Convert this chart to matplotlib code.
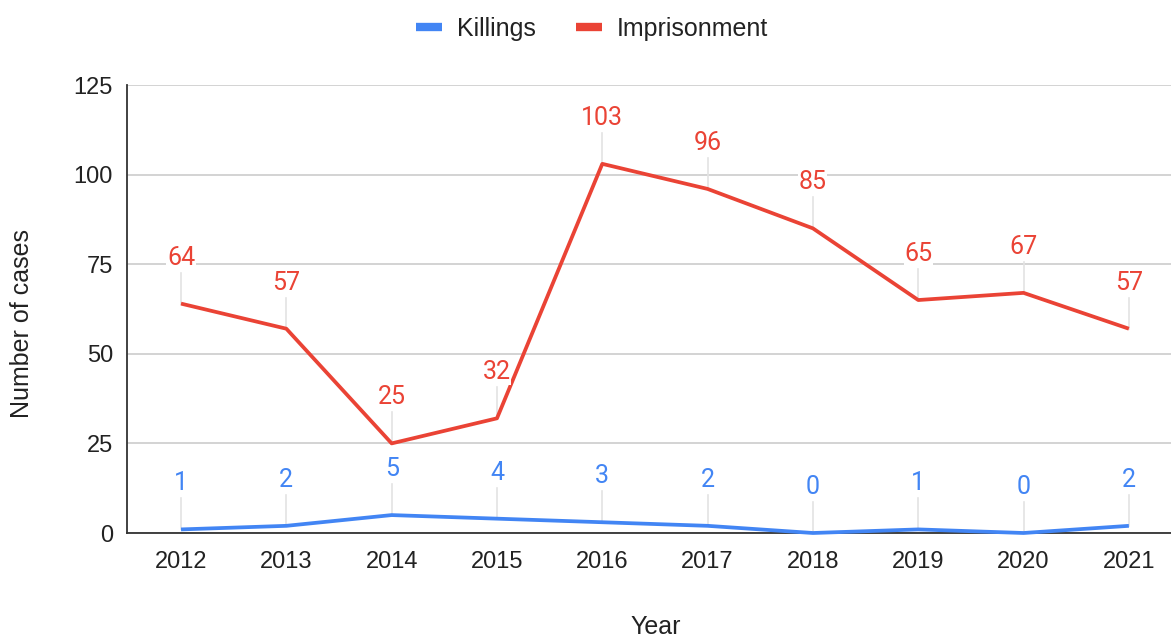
import matplotlib
matplotlib.use("Agg")
import matplotlib.pyplot as plt
from matplotlib.lines import Line2D

years = ["2012", "2013", "2014", "2015", "2016", "2017", "2018", "2019", "2020", "2021"]
killings = [1, 2, 5, 4, 3, 2, 0, 1, 0, 2]
imprisonment = [64, 57, 25, 32, 103, 96, 85, 65, 67, 57]
y_ticks = [0, 25, 50, 75, 100, 125]

BLUE = "#4285F4"
RED = "#EA4335"
TEXT = "#222222"

W, H = 1171, 639
fig = plt.figure(figsize=(W / 100, H / 100), dpi=100)
ax = fig.add_axes([127 / W, 1 - 533 / H, 1 - 127 / W, (533 - 85) / H])

x = list(range(len(years)))

ax.set_ylim(0, 125)
ax.set_xlim(-0.513, 9.40)
ax.set_yticks(y_ticks)
ax.set_xticks(x)
ax.set_xticklabels(years)
ax.yaxis.grid(True, color="#cccccc", linewidth=1.2)
ax.set_axisbelow(True)
for s in ("top", "right"):
    ax.spines[s].set_visible(False)
for s in ("left", "bottom"):
    ax.spines[s].set_color("#333333")
    ax.spines[s].set_linewidth(1.3)
ax.tick_params(length=0, labelsize=17, labelcolor=TEXT)
for t in ax.get_xticklabels() + ax.get_yticklabels():
    t.set_fontfamily("Liberation Sans")
ax.tick_params(axis="x", pad=13)
ax.tick_params(axis="y", pad=10)

u_per_px = 125 / (533 - 85)


def annotate(series, color):
    for xi, v in zip(x, series):
        top = v + 31 * u_per_px
        ax.plot([xi, xi], [v, top], color="#e3e3e3", linewidth=1.2, zorder=1)
        ax.text(xi, v + 46 * u_per_px, str(v), color=color, fontsize=18,
                fontfamily="Roboto", ha="center", va="center", zorder=4,
                bbox=dict(facecolor="white", edgecolor="none", pad=0.3))


annotate(killings, BLUE)
annotate(imprisonment, RED)
ax.plot(x, killings, color=BLUE, linewidth=2.7, zorder=3, solid_capstyle="butt", clip_on=False)
ax.plot(x, imprisonment, color=RED, linewidth=2.7, zorder=3, solid_capstyle="butt", clip_on=False)

ax.set_ylabel("Number of cases", fontsize=18, fontfamily="Liberation Sans", color=TEXT)
ax.set_xlabel("Year", fontsize=18, fontfamily="Liberation Sans", color=TEXT)
ax.yaxis.set_label_coords(-(127 - 22) / (W - 127), 0.5 - 14 / (533 - 85))
ax.xaxis.set_label_coords(0.5 + 7 / (W - 127), -(627 - 533) / (533 - 85))
ax.xaxis.label.set_va("center")
ax.yaxis.label.set_va("center")

handles = [Line2D([0], [0], color=BLUE, linewidth=6, solid_capstyle="butt"),
           Line2D([0], [0], color=RED, linewidth=6, solid_capstyle="butt")]
fig.legend(handles, ["Killings", "Imprisonment"], loc="center", bbox_to_anchor=(592 / W, 1 - 29 / H),
           ncol=2, frameon=False, handlelength=1.05, handletextpad=0.6, columnspacing=1.6,
           prop={"family": "Liberation Sans", "size": 18}, labelcolor=TEXT)

fig.savefig("out.png", dpi=100)
